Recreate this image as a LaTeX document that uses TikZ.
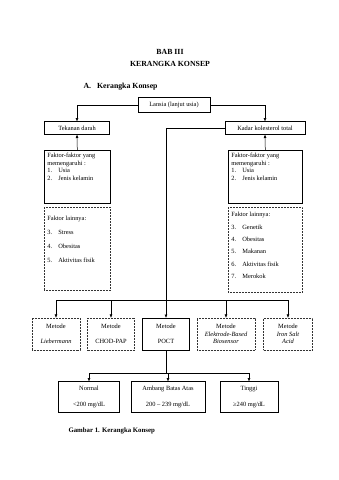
\documentclass[tikz,border=0pt]{standalone}
\usepackage{fontspec}
\setmainfont{Liberation Serif}
\usetikzlibrary{arrows.meta, positioning}

\newcommand{\itm}[2]{\makebox[11pt][l]{#1}#2}

\begin{document}
\begin{tikzpicture}[x=1pt, y=1pt,
  box/.style={draw, line width=0.6pt, inner sep=0pt, align=center,
              font=\fontsize{6.4}{7.4}\selectfont},
  dotbox/.style={box, draw=black!80, dash pattern=on 0.6pt off 0.9pt, line width=0.7pt},
  listbox/.style={inner sep=3pt, anchor=north west},
  head/.style={font=\fontsize{7.8}{8.8}\selectfont\bfseries},
  arr/.style={-{Triangle[length=3.2pt, width=2.6pt]}, line width=0.5pt},
]
  \useasboundingbox (0,0) rectangle (339,-480);
  % judul
  \node[head] (bab) at (170,-52) {BAB III};
  \node[head] (judul) at (170,-64) {KERANGKA KONSEP};
  \node[head, anchor=west] (subjudul) at (80,-87) {A.\hspace{6pt}Kerangka Konsep};

  % baris atas
  \node[box, minimum width=72, minimum height=15] (lansia) at (174,-105) {Lansia (lanjut usia)};
  \node[box, minimum width=65, minimum height=13] (tekanan) at (77,-128) {Tekanan darah};
  \node[box, minimum width=80, minimum height=13] (kadar) at (265,-128) {Kadar kolesterol total};

  % faktor kiri
  \node[box, listbox] (faktorL) at (44,-150) {%
    \begin{minipage}[c][47pt][t]{60pt}\raggedright
    Faktor-faktor yang\\ memengaruhi :\\ \itm{1.}{Usia}\\ \itm{2.}{Jenis kelamin}
    \end{minipage}};
  \node[dotbox, listbox] (lainL) at (44,-207) {%
    \begin{minipage}[c][77pt][t]{60pt}\raggedright\vspace{6pt}
    Faktor lainnya:\\[6.5pt] \itm{3.}{Stress}\\[6.5pt] \itm{4.}{Obesitas}\\[6.5pt] \itm{5.}{Aktivitas fisik}
    \end{minipage}};

  % faktor kanan
  \node[box, listbox] (faktorR) at (228,-150) {%
    \begin{minipage}[c][47pt][t]{68pt}\raggedright
    Faktor-faktor yang\\ memengaruhi :\\ \itm{1.}{Usia}\\ \itm{2.}{Jenis kelamin}
    \end{minipage}};
  \node[dotbox, listbox] (lainR) at (228,-207) {%
    \begin{minipage}[c][79pt][t]{68pt}\raggedright\vspace{2pt}
    Faktor lainnya:\\[5pt] \itm{3.}{Genetik}\\[5pt] \itm{4.}{Obesitas}\\[5pt] \itm{5.}{Makanan}\\[5pt] \itm{6.}{Aktivitas fisik}\\[5pt] \itm{7.}{Merokok}
    \end{minipage}};

  % metode
  \node[dotbox, minimum width=48, minimum height=32] (m1) at (56,-334) {Metode\\[8pt]\textit{Liebermann}};
  \node[dotbox, minimum width=47, minimum height=32] (m2) at (111,-334) {Metode\\[8pt]CHOD-PAP};
  \node[box, minimum width=47, minimum height=32] (m3) at (166,-334) {Metode\\[8pt]POCT};
  \node[dotbox, minimum width=58, minimum height=32] (m4) at (226,-334) {Metode\\\textit{Elektrode-Based}\\\textit{Biosensor}};
  \node[dotbox, minimum width=49, minimum height=32] (m5) at (288,-334) {Metode\\\textit{Iron Salt}\\\textit{Acid}};

  % hasil
  \node[box, minimum width=61, minimum height=31] (normal) at (89,-397) {Normal\\[8pt]<200 mg/dL};
  \node[box, minimum width=74, minimum height=31] (ambang) at (168,-397) {Ambang Batas Atas\\[8pt]200 -- 239 mg/dL};
  \node[box, minimum width=58, minimum height=31] (tinggi) at (249,-397) {Tinggi\\[8pt]≥240 mg/dL};

  \node[head, anchor=west, font=\fontsize{6.8}{8}\selectfont\bfseries] (caption) at (65,-431) {Gambar 1. Kerangka Konsep};

  % garis penghubung
  \draw[arr] (lansia.west) -| (tekanan.north);
  \draw[arr] (lansia.east) -| (kadar.north);
  \draw[arr] (faktorL.north) -- (tekanan.south);
  \draw[arr] (faktorR.north) -- (kadar.south);

  \coordinate (hub) at (166,-300);
  \draw[line width=0.5pt] (kadar.west) -| (hub);
  \draw[line width=0.5pt] (m1.north |- hub) -- (m5.north |- hub);
  \foreach \m in {m1,m2,m3,m4,m5}
    \draw[arr] (\m.north |- hub) -- (\m.north);

  \coordinate (split) at (166,-373);
  \draw[line width=0.5pt] (m3.south) -- (split);
  \draw[line width=0.5pt] (normal.north |- split) -- (tinggi.north |- split);
  \foreach \r in {normal,ambang,tinggi}
    \draw[arr] (\r.north |- split) -- (\r.north);
\end{tikzpicture}
\end{document}
